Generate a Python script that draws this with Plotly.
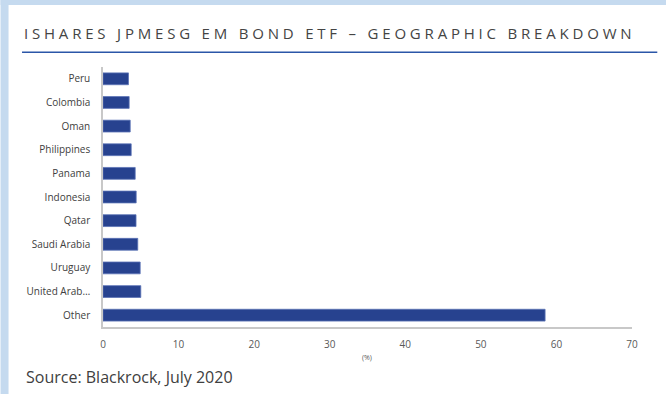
import plotly.graph_objects as go

countries = ["Peru", "Colombia", "Oman", "Philippines", "Panama", "Indonesia",
             "Qatar", "Saudi Arabia", "Uruguay", "United Arab…", "Other"]
weights = [3.37, 3.46, 3.6, 3.73, 4.26, 4.39, 4.37, 4.6, 4.92, 5.0, 58.5]
x_ticks = [0, 10, 20, 30, 40, 50, 60, 70]

W, H = 666, 394
L, R, T, B = 102.5, 34.3, 67, 67
pw, ph = W - L - R, H - T - B

def px(x):
    return (x - L) / pw

def py(y):
    return 1 - (y - T) / ph

fig = go.Figure(go.Bar(
    x=weights, y=countries, orientation="h",
    marker=dict(color="#27428f", line=dict(color="#5a72b5", width=0.8)),
))

shapes = [
    # light-blue frame (left and top)
    dict(type="rect", xref="paper", yref="paper", x0=px(0), x1=px(8), y0=py(394), y1=py(0),
         fillcolor="#c5daef", line=dict(width=0), layer="below"),
    dict(type="rect", xref="paper", yref="paper", x0=px(0), x1=px(666), y0=py(5), y1=py(0),
         fillcolor="#c5daef", line=dict(width=0), layer="below"),
    # title underline
    dict(type="line", xref="paper", yref="paper", x0=px(21.5), x1=px(657), y0=py(52.3), y1=py(52.3),
         line=dict(color="#2b56a8", width=1.5)),
]

annotations = [
    dict(text='<span style="letter-spacing:3.8px">ISHARES JPMESG EM BOND ETF – GEOGRAPHIC BREAKDOWN</span>',
         xref="paper", yref="paper", x=px(21), y=py(33), xanchor="left", yanchor="middle",
         showarrow=False, font=dict(family="Open Sans", size=15, color="#444444")),
    dict(text="(%)", xref="paper", yref="paper", x=px(367), y=py(357), xanchor="center", yanchor="middle",
         showarrow=False, font=dict(family="Open Sans", size=7, color="#595959")),
    dict(text="Source: Blackrock, July 2020", xref="paper", yref="paper", x=px(23), y=py(377),
         xanchor="left", yanchor="middle", showarrow=False,
         font=dict(family="Open Sans", size=16, color="#404040")),
]

fig.update_layout(
    width=W, height=H,
    margin=dict(l=L, r=R, t=T, b=B, pad=0),
    paper_bgcolor="white", plot_bgcolor="white",
    showlegend=False,
    bargap=0.5,
    shapes=shapes, annotations=annotations,
    font=dict(family="Open Sans", color="#404040"),
)
fig.update_xaxes(range=[0, 70], tickvals=x_ticks, showgrid=False, zeroline=False,
                 showline=True, linecolor="#c8c8c8", linewidth=1.5,
                 ticks="", ticklabelstandoff=7, tickfont=dict(size=10, color="#595959"))
fig.update_yaxes(autorange="reversed", showgrid=False, zeroline=False,
                 showline=True, linecolor="#c8c8c8", linewidth=1.5,
                 ticks="", ticklabelstandoff=9, tickfont=dict(size=10, color="#404040"))

fig.write_html("out.html")
